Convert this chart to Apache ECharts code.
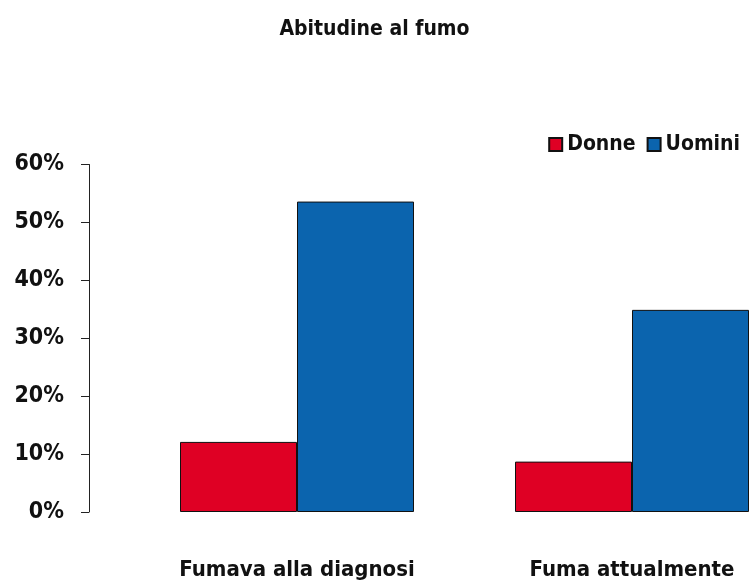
<!DOCTYPE html>
<html>
<head>
<meta charset="utf-8">
<script src="https://cdn.jsdelivr.net/npm/echarts@6/dist/echarts.min.js"></script>
<style>
html, body { margin: 0; padding: 0; background: #fff; }
#main { width: 749px; height: 583px; }
</style>
</head>
<body>
<div id="main"></div>
<script>
var categories = ['Fumava alla diagnosi', 'Fuma attualmente'];
var donne = [12.1, 8.7];
var uomini = [53.6, 34.9];
var yTicks = [0, 10, 20, 30, 40, 50, 60];

var FONT = 'DejaVu Sans Condensed';
var chart = echarts.init(document.getElementById('main'));
var option = {
    animation: false,
    title: {
        text: 'Abitudine al fumo',
        left: 'center',
        top: 14,
        textStyle: { fontFamily: FONT, fontWeight: 'bold', fontSize: 21, color: '#111' }
    },
    legend: {
        right: 4,
        top: 129,
        icon: 'rect',
        itemWidth: 13,
        itemHeight: 13,
        itemGap: 11,
        textStyle: { fontFamily: FONT, fontWeight: 'bold', fontSize: 21, color: '#111' },
        data: ['Donne', 'Uomini']
    },
    // category points sit on the grid edges, y axis pushed out to the left
    grid: {
        left: 297,
        right: 117,
        top: 164.5,
        bottom: 71,
        outerBoundsMode: 'none'
    },
    xAxis: {
        type: 'category',
        boundaryGap: false,
        data: categories,
        axisLine: { show: false },
        axisTick: { show: false },
        axisLabel: {
            margin: 47,
            fontFamily: FONT, fontWeight: 'bold', fontSize: 22, color: '#111'
        }
    },
    yAxis: {
        type: 'value',
        min: yTicks[0],
        max: yTicks[yTicks.length - 1],
        interval: 10,
        offset: 208,
        splitLine: { show: false },
        axisLine: { show: true, lineStyle: { color: '#222', width: 1 } },
        axisTick: { show: true, length: 8, lineStyle: { color: '#222' } },
        axisLabel: {
            margin: 25,
            formatter: '{value}%',
            fontFamily: FONT, fontWeight: 'bold', fontSize: 23, color: '#111'
        }
    },
    series: [
        {
            name: 'Donne',
            type: 'bar',
            data: donne,
            clip: false,
            barWidth: 117,
            barGap: '0%',
            itemStyle: { color: '#DF0024', borderColor: '#111', borderWidth: 1 }
        },
        {
            name: 'Uomini',
            type: 'bar',
            data: uomini,
            clip: false,
            barWidth: 117,
            barGap: '0%',
            itemStyle: { color: '#0B64AE', borderColor: '#111', borderWidth: 1 }
        }
    ]
};
chart.setOption(option);
</script>
</body>
</html>
